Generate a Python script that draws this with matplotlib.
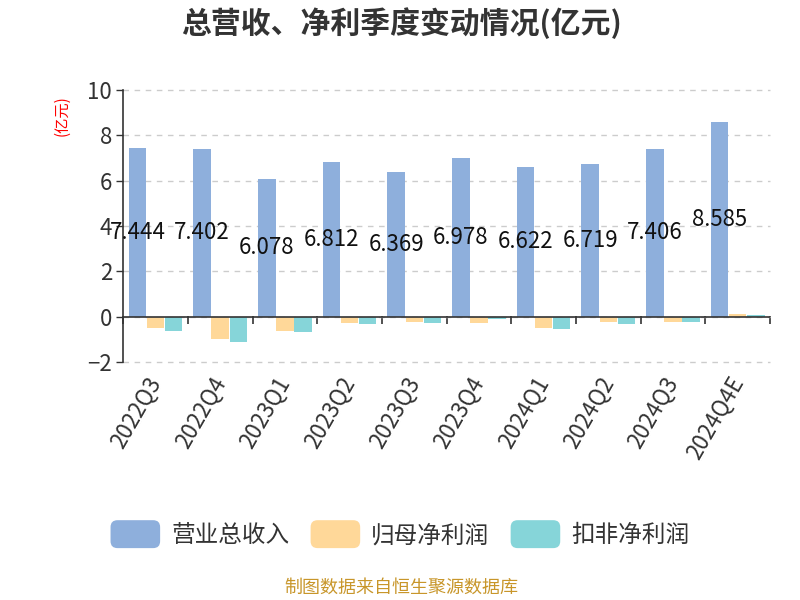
import matplotlib
matplotlib.use("Agg")
import matplotlib.pyplot as plt
import numpy as np
from matplotlib.patches import FancyBboxPatch
from matplotlib.legend_handler import HandlerPatch

plt.rcParams['font.family'] = ['Noto Sans CJK SC', 'DejaVu Sans']

categories = ['2022Q3', '2022Q4', '2023Q1', '2023Q2', '2023Q3', '2023Q4',
              '2024Q1', '2024Q2', '2024Q3', '2024Q4E']
revenue = [7.444, 7.402, 6.078, 6.812, 6.369, 6.978, 6.622, 6.719, 7.406, 8.585]
net_profit = [-0.51, -1.00, -0.63, -0.29, -0.23, -0.29, -0.50, -0.26, -0.23, 0.10]
deducted_profit = [-0.66, -1.12, -0.68, -0.32, -0.28, -0.13, -0.53, -0.32, -0.23, 0.06]
series_names = ['营业总收入', '归母净利润', '扣非净利润']
colors = ['#8EAFDC', '#FFD899', '#86D5D9']

fig = plt.figure(figsize=(8, 6), dpi=100)
ax = fig.add_axes([0.154, 0.397, 0.8085, 0.453])

x = np.arange(len(categories))
w = 0.27
off = 0.28
b1 = ax.bar(x - off, revenue, w, color=colors[0], label=series_names[0], zorder=2)
b2 = ax.bar(x, net_profit, w, color=colors[1], label=series_names[1], zorder=2)
b3 = ax.bar(x + off, deducted_profit, w, color=colors[2], label=series_names[2], zorder=2)

for xi, v in zip(x, revenue):
    ax.text(xi - off, v / 2, f'{v:.3f}', ha='center', va='center',
            fontsize=16, color='#111111', zorder=4)

ax.set_xlim(-0.5, len(categories) - 0.5)
ax.set_ylim(-2, 10)
ax.set_yticks([-2, 0, 2, 4, 6, 8, 10])
ax.yaxis.grid(True, linestyle=(0, (4, 4)), color='#cccccc', linewidth=1, zorder=0)
for gl in ax.get_ygridlines():
    gl.set_clip_on(False)
ax.tick_params(axis='y', labelsize=16, colors='#333333', length=5, width=1, pad=3)

for s in ['top', 'right', 'bottom']:
    ax.spines[s].set_visible(False)
ax.spines['left'].set_color('#333333')
ax.spines['left'].set_linewidth(1.2)

ax.set_xticks(x)
ax.set_xticklabels(categories, rotation=60, ha='right', va='center',
                   rotation_mode='anchor', fontsize=16, color='#333333')
ax.tick_params(axis='x', length=0, pad=12)

ax.axhline(0, color='#333333', linewidth=1.2, zorder=3)
sec = ax.secondary_xaxis(2 / 12)
sec.set_xticks(np.arange(-0.5, len(categories), 1.0))
sec.set_xticklabels([])
sec.tick_params(axis='x', direction='out', length=6, width=1.2, color='#333333')
sec.spines['bottom'].set_visible(False)

fig.text(0.078, 0.808, '(亿元)', rotation=90, color='red', fontsize=11,
         ha='center', va='center')

fig.text(0.502, 0.962, '总营收、净利季度变动情况(亿元)', ha='center', va='center',
         fontsize=21.5, fontweight='bold', color='#333333')


class RoundHandler(HandlerPatch):
    def create_artists(self, legend, orig_handle, xdescent, ydescent,
                       width, height, fontsize, trans):
        p = FancyBboxPatch((-xdescent, -ydescent - 3), width, height + 6,
                           boxstyle='round,pad=0,rounding_size=5',
                           facecolor=orig_handle.get_facecolor(),
                           edgecolor='none', transform=trans)
        return [p]


handles = [b1.patches[0], b2.patches[0], b3.patches[0]]
leg = fig.legend(handles, series_names, loc='center', bbox_to_anchor=(0.5, 0.107),
                 ncol=3, frameon=False, fontsize=17, handlelength=2.1,
                 handleheight=0.9, handletextpad=0.47, columnspacing=0.9,
                 handler_map={h: RoundHandler() for h in handles})
for t in leg.get_texts():
    t.set_color('#333333')

fig.text(0.501, 0.021, '制图数据来自恒生聚源数据库', ha='center', va='center',
         fontsize=13, color='#C8962A')

fig.savefig('out.png', dpi=100)
